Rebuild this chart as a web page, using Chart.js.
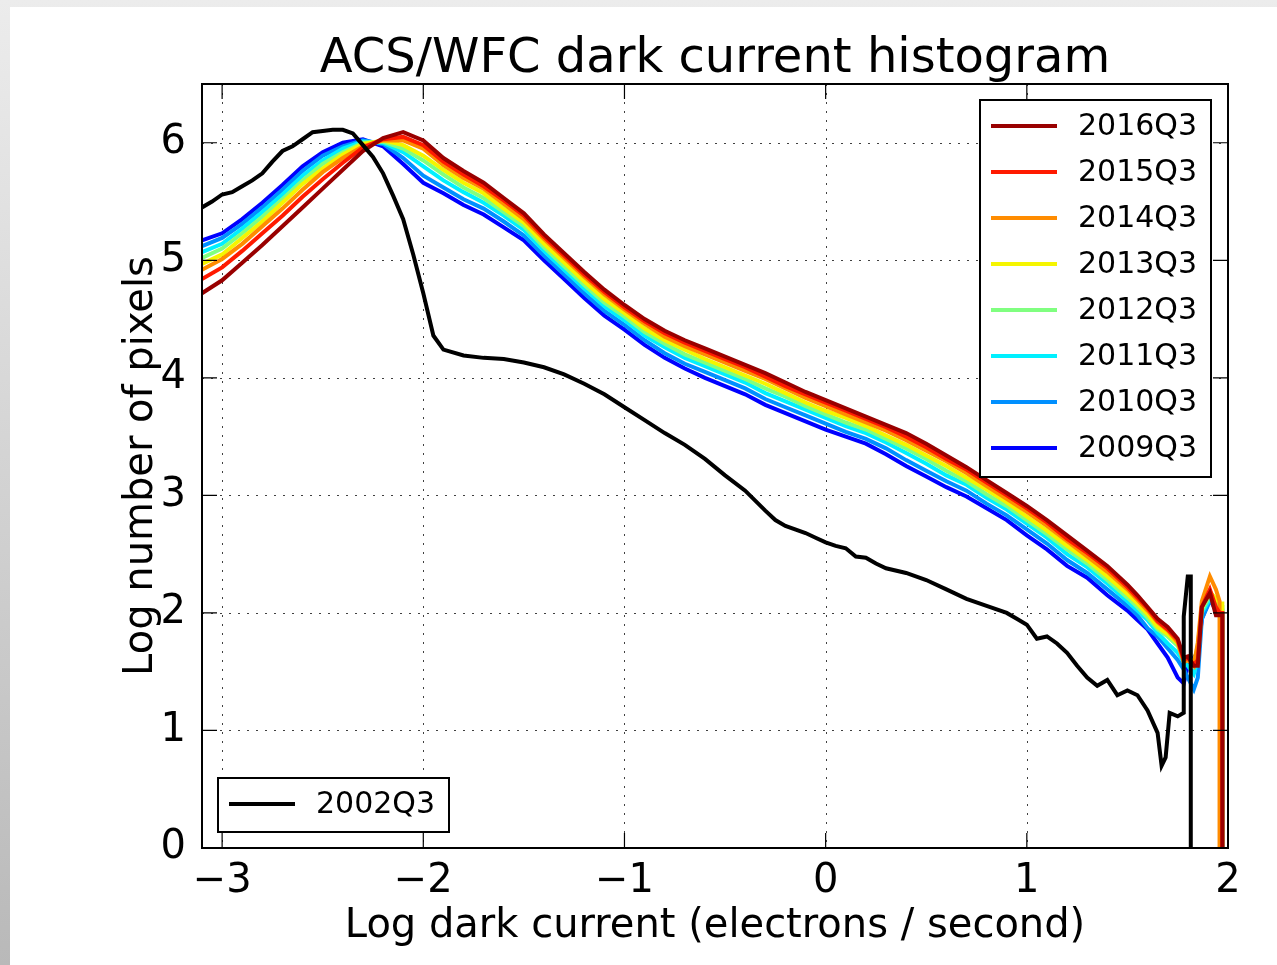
<!DOCTYPE html>
<html>
<head>
<meta charset="utf-8">
<title>ACS/WFC dark current histogram</title>
<script src="https://cdn.jsdelivr.net/npm/chart.js@4/dist/chart.umd.min.js"></script>
<style>
  html, body { margin: 0; padding: 0; }
  body { width: 1277px; height: 965px; overflow: hidden; background: linear-gradient(to bottom, #ececec, #b9b9b9); position: relative; }
  #wrap { position: absolute; left: 10px; top: 7px; width: 1267px; height: 958px; background: #fff; }
</style>
</head>
<body>
<div id="wrap"><canvas id="chart" width="1267" height="958"></canvas></div>
<script>
// ---------------- Daten ----------------
const chartTitle = 'ACS/WFC dark current histogram';
const xTitle = 'Log dark current (electrons / second)';
const yTitle = 'Log number of pixels';

// bin positions (log e-/s) for the 2009-2016 curves
const xColour = [-3.1,-3.0,-2.9,-2.8,-2.7,-2.6,-2.5,-2.4,-2.3,-2.2,-2.1,
  -2.0,-1.9,-1.8,-1.7,-1.6,-1.5,-1.4,-1.3,-1.2,-1.1,
  -1.0,-0.9,-0.8,-0.7,-0.6,-0.5,-0.4,-0.3,-0.2,-0.1,
  0.0,0.1,0.2,0.3,0.4,0.5,0.6,0.7,0.8,0.9,
  1.0,1.1,1.2,1.3,1.4,1.5,
  1.55,1.6,1.65,1.7,1.75,1.78,1.8,1.83,1.85,1.87,1.91,1.94,1.958,1.958,1.972,1.972];

const y2009 = [5.17,5.23,5.35,5.49,5.64,5.80,5.92,6.00,6.03,5.97,5.82,
  5.66,5.57,5.47,5.39,5.28,5.17,5.00,4.84,4.68,4.53,
  4.41,4.28,4.17,4.08,4.00,3.93,3.86,3.77,3.70,3.63,
  3.56,3.50,3.44,3.35,3.25,3.16,3.07,2.99,2.89,2.79,
  2.66,2.54,2.40,2.30,2.15,2.02,
  1.94,1.86,1.74,1.62,1.45,1.40,1.55,1.62,1.66,1.95,2.12,2.02,1.98,1.98,1.98,0];
const y2010 = [5.12,5.19,5.31,5.45,5.60,5.76,5.89,5.97,6.02,5.99,5.87,
  5.72,5.62,5.52,5.44,5.33,5.21,5.04,4.88,4.72,4.57,
  4.45,4.32,4.21,4.12,4.05,3.98,3.91,3.82,3.75,3.68,
  3.61,3.54,3.48,3.40,3.30,3.21,3.12,3.04,2.93,2.83,
  2.71,2.59,2.45,2.34,2.20,2.06,
  1.98,1.87,1.80,1.70,1.60,1.52,1.45,1.35,1.45,1.95,2.10,2.05,2.00,2.00,2.00,0];
const y2011 = [5.07,5.14,5.27,5.41,5.56,5.72,5.85,5.95,6.01,6.00,5.92,
  5.80,5.68,5.58,5.49,5.38,5.26,5.08,4.92,4.76,4.61,
  4.49,4.36,4.26,4.17,4.10,4.03,3.96,3.87,3.80,3.73,
  3.66,3.59,3.53,3.45,3.36,3.27,3.17,3.09,2.98,2.88,
  2.76,2.64,2.50,2.39,2.25,2.10,
  2.02,1.94,1.83,1.74,1.66,1.58,1.55,1.48,1.60,2.00,2.12,2.08,2.02,2.02,2.02,0];
const y2012 = [5.02,5.10,5.23,5.37,5.52,5.68,5.82,5.92,6.00,6.01,5.95,
  5.85,5.73,5.62,5.53,5.41,5.29,5.11,4.95,4.79,4.64,
  4.52,4.39,4.29,4.20,4.13,4.06,3.99,3.91,3.84,3.76,
  3.69,3.62,3.56,3.48,3.40,3.31,3.21,3.12,3.01,2.91,
  2.79,2.67,2.54,2.42,2.28,2.13,
  2.05,1.96,1.86,1.80,1.72,1.60,1.60,1.55,1.70,2.02,2.15,2.10,2.05,2.05,2.05,0];
const y2013 = [4.97,5.05,5.19,5.33,5.49,5.65,5.78,5.90,5.99,6.02,5.98,
  5.89,5.77,5.66,5.57,5.44,5.32,5.14,4.98,4.82,4.67,
  4.55,4.42,4.32,4.24,4.16,4.09,4.02,3.95,3.87,3.79,
  3.72,3.66,3.59,3.51,3.43,3.34,3.25,3.15,3.05,2.94,
  2.82,2.70,2.57,2.45,2.31,2.16,
  2.08,1.99,1.88,1.82,1.74,1.62,1.62,1.58,1.72,2.05,2.18,2.12,2.08,2.08,2.08,0];
const y2014 = [4.92,5.01,5.14,5.29,5.44,5.60,5.75,5.87,5.97,6.02,6.02,
  5.95,5.81,5.70,5.61,5.48,5.35,5.18,5.02,4.86,4.71,
  4.58,4.46,4.35,4.27,4.20,4.13,4.06,3.99,3.91,3.83,
  3.76,3.69,3.62,3.55,3.47,3.38,3.29,3.19,3.08,2.97,
  2.86,2.74,2.61,2.48,2.35,2.20,
  2.11,2.02,1.92,1.85,1.75,1.58,1.60,1.55,1.75,2.10,2.31,2.20,2.10,0,0,0];
const y2015 = [4.84,4.94,5.08,5.23,5.38,5.54,5.69,5.83,5.96,6.03,6.05,
  5.98,5.84,5.73,5.63,5.51,5.38,5.20,5.04,4.88,4.73,
  4.60,4.48,4.38,4.30,4.23,4.16,4.09,4.01,3.93,3.86,
  3.79,3.72,3.65,3.58,3.50,3.41,3.31,3.22,3.11,3.00,
  2.89,2.77,2.63,2.51,2.38,2.22,
  2.13,2.04,1.93,1.86,1.77,1.60,1.62,1.56,1.60,2.05,2.20,2.05,2.00,2.00,2.00,0];
const y2016 = [4.72,4.83,4.98,5.13,5.29,5.45,5.61,5.77,5.93,6.04,6.09,
  6.02,5.87,5.76,5.66,5.53,5.40,5.22,5.06,4.90,4.75,
  4.62,4.50,4.40,4.32,4.25,4.18,4.11,4.04,3.96,3.88,
  3.81,3.74,3.67,3.60,3.53,3.44,3.34,3.24,3.13,3.02,
  2.91,2.79,2.66,2.53,2.40,2.24,
  2.15,2.05,1.95,1.88,1.78,1.62,1.63,1.55,1.55,2.05,2.17,1.98,1.98,1.98,1.98,0];

// 2002Q3 has its own bins
const xBlack = [-3.1,-3.05,-3.0,-2.95,-2.9,-2.85,-2.8,-2.75,-2.7,-2.65,-2.6,-2.55,-2.5,-2.45,-2.4,-2.35,-2.3,-2.25,-2.2,-2.15,-2.1,-2.05,-2.0,-1.95,-1.9,
  -1.8,-1.7,-1.6,-1.5,-1.4,-1.3,-1.2,-1.1,-1.0,-0.9,-0.8,-0.7,-0.6,-0.5,-0.4,-0.3,
  -0.25,-0.2,-0.1,-0.05,0,0.05,0.1,0.15,0.2,0.25,0.3,
  0.4,0.5,0.6,0.7,0.8,0.9,
  0.95,1.0,1.05,1.1,1.15,1.2,1.25,1.3,1.35,1.4,1.45,1.5,1.55,1.6,1.65,
  1.67,1.69,1.71,1.75,1.78,1.78,1.8,1.815,1.815];
const y2002 = [5.45,5.50,5.56,5.58,5.63,5.68,5.74,5.84,5.93,5.97,6.03,6.09,6.10,6.11,6.11,6.08,5.98,5.88,5.74,5.55,5.35,5.05,4.72,4.36,4.24,
  4.19,4.17,4.16,4.13,4.09,4.03,3.95,3.86,3.75,3.64,3.53,3.43,3.31,3.17,3.04,2.87,
  2.79,2.74,2.68,2.64,2.60,2.57,2.55,2.48,2.47,2.42,2.38,
  2.34,2.28,2.20,2.12,2.06,2.00,
  1.95,1.90,1.78,1.80,1.74,1.66,1.55,1.45,1.38,1.43,1.30,1.34,1.30,1.17,0.98,
  0.70,0.77,1.15,1.12,1.15,1.97,2.31,2.31,0];

const colourLabels = ['2016Q3','2015Q3','2014Q3','2013Q3','2012Q3','2011Q3','2010Q3','2009Q3'];
const colourSeries = [y2016, y2015, y2014, y2013, y2012, y2011, y2010, y2009];
const colourLines = ['#990000','#ff1a00','#ff8c00','#f5f500','#80ff80','#00f0ff','#0090ff','#0000ff'];

const xTicks = [-3, -2, -1, 0, 1, 2];
const yTicks = [0, 1, 2, 3, 4, 5, 6];

const FONT = '"DejaVu Sans", "Liberation Sans", sans-serif';

// ---------------- Datasets ----------------
const pts = (xs, ys) => xs.map((x, i) => ({ x: x, y: ys[i] }));

const datasets = [{
  label: '2002Q3',
  data: pts(xBlack, y2002),
  borderColor: '#000',
  borderWidth: 4
}];
colourLabels.forEach((lab, i) => {
  datasets.push({
    label: lab,
    data: pts(xColour, colourSeries[i]),
    borderColor: colourLines[i],
    borderWidth: 4
  });
});

// ---------------- Rahmen, Gitter, Legenden ----------------
const decor = {
  id: 'decor',
  beforeDraw(chart) {
    const ctx = chart.ctx;
    ctx.save();
    ctx.fillStyle = '#fff';
    ctx.fillRect(0, 0, chart.width, chart.height);
    ctx.restore();
  },
  beforeDatasetsDraw(chart) {
    const { ctx, chartArea: a, scales: { x, y } } = chart;
    ctx.save();
    ctx.strokeStyle = 'rgba(0,0,0,0.75)';
    ctx.lineWidth = 1;
    ctx.setLineDash([2, 7]);
    xTicks.forEach(v => {
      const px = Math.round(x.getPixelForValue(v)) + 0.5;
      ctx.beginPath(); ctx.moveTo(px, a.top); ctx.lineTo(px, a.bottom); ctx.stroke();
    });
    yTicks.forEach(v => {
      const py = Math.round(y.getPixelForValue(v)) + 0.5;
      ctx.beginPath(); ctx.moveTo(a.left, py); ctx.lineTo(a.right, py); ctx.stroke();
    });
    ctx.restore();
  },
  afterDraw(chart) {
    const { ctx, chartArea: a, scales: { x, y } } = chart;
    ctx.save();
    // frame
    ctx.strokeStyle = '#000';
    ctx.lineWidth = 2;
    ctx.strokeRect(a.left, a.top, a.right - a.left, a.bottom - a.top);
    // inward ticks on all sides
    ctx.lineWidth = 1.2;
    const tl = 15;
    xTicks.forEach(v => {
      const px = x.getPixelForValue(v);
      ctx.beginPath();
      ctx.moveTo(px, a.bottom); ctx.lineTo(px, a.bottom - tl);
      ctx.moveTo(px, a.top); ctx.lineTo(px, a.top + tl);
      ctx.stroke();
    });
    yTicks.forEach(v => {
      const py = y.getPixelForValue(v);
      ctx.beginPath();
      ctx.moveTo(a.left, py); ctx.lineTo(a.left + tl, py);
      ctx.moveTo(a.right, py); ctx.lineTo(a.right - tl, py);
      ctx.stroke();
    });

    // titles
    ctx.fillStyle = '#000';
    ctx.textAlign = 'center';
    ctx.textBaseline = 'alphabetic';
    ctx.font = '48px ' + FONT;
    ctx.fillText(chartTitle, (a.left + a.right) / 2, a.top - 12);
    ctx.font = '40px ' + FONT;
    ctx.fillText(xTitle, (a.left + a.right) / 2, a.bottom + 89);
    ctx.save();
    ctx.translate(a.left - 50, (a.top + a.bottom) / 2);
    ctx.rotate(-Math.PI / 2);
    ctx.fillText(yTitle, 0, 0);
    ctx.restore();

    // legends
    const legend = (bx, by, bw, bh, items) => {
      ctx.fillStyle = '#fff';
      ctx.fillRect(bx, by, bw, bh);
      ctx.strokeStyle = '#000';
      ctx.lineWidth = 2;
      ctx.strokeRect(bx, by, bw, bh);
      ctx.font = '30px ' + FONT;
      ctx.textAlign = 'left';
      ctx.textBaseline = 'middle';
      items.forEach((it, i) => {
        const ly = by + 26 + i * 46;
        ctx.strokeStyle = it.c;
        ctx.lineWidth = 4;
        ctx.beginPath(); ctx.moveTo(bx + 11, ly); ctx.lineTo(bx + 77, ly); ctx.stroke();
        ctx.fillStyle = '#000';
        ctx.fillText(it.t, bx + 98, ly + 1);
      });
    };
    legend(a.right - 248, a.top + 16, 231, 377,
      colourLabels.map((t, i) => ({ t: t, c: colourLines[i] })));
    legend(a.left + 16, a.bottom - 70, 231, 54, [{ t: '2002Q3', c: '#000' }]);
    ctx.restore();
  }
};

const tickFont = { family: FONT, size: 40 };
const minus = v => (v < 0 ? '\u2212' + Math.abs(v) : String(v));

new Chart(document.getElementById('chart'), {
  type: 'line',
  data: { datasets: datasets },
  options: {
    responsive: false,
    animation: false,
    elements: {
      point: { radius: 0, hoverRadius: 0 },
      line: { tension: 0, fill: false, borderJoinStyle: 'miter' }
    },
    layout: { padding: { top: 77, right: 49, left: 0, bottom: 0 } },
    plugins: {
      legend: { display: false },
      title: { display: false },
      tooltip: { enabled: false }
    },
    scales: {
      x: {
        type: 'linear',
        min: -3.1,
        max: 2,
        grid: { display: false },
        border: { display: false },
        afterFit: s => { s.height = 117; },
        afterBuildTicks: s => { s.ticks = xTicks.map(v => ({ value: v })); },
        ticks: { font: tickFont, color: '#000', padding: 2, maxRotation: 0, autoSkip: false, callback: minus }
      },
      y: {
        type: 'linear',
        min: 0,
        max: 6.5,
        grid: { display: false },
        border: { display: false },
        afterFit: s => { s.width = 192; },
        afterBuildTicks: s => { s.ticks = yTicks.map(v => ({ value: v })); },
        ticks: { font: tickFont, color: '#000', padding: 8, callback: minus }
      }
    }
  },
  plugins: [decor]
});
</script>
</body>
</html>
